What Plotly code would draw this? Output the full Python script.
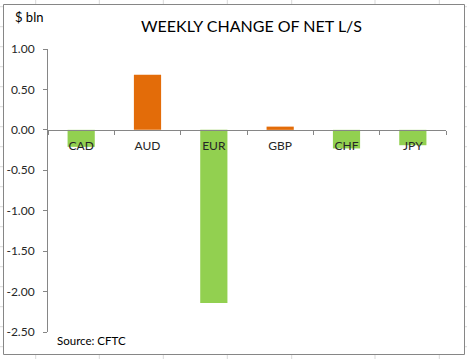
import plotly.graph_objects as go

# ---- data ----
categories = ["CAD", "AUD", "EUR", "GBP", "CHF", "JPY"]
values = [-0.21, 0.68, -2.14, 0.04, -0.23, -0.19]
ytick_vals = [1.0, 0.5, 0.0, -0.5, -1.0, -1.5, -2.0, -2.5]
ytick_text = ["1.00", "0.50", "0.00", "-0.50", "-1.00", "-1.50", "-2.00", "-2.50"]

GREEN = "#92D050"
ORANGE = "#E36C09"
AXIS = "#868686"
TXT = "#262626"
FONT = "Lato"

W, H = 467, 359
L, R, T, B = 48, 21, 49, 27
pw, ph = W - L - R, H - T - B


def px_x(x):
    return (x - L) / pw


def px_y(y):
    return (H - B - y) / ph


colors = [ORANGE if v > 0 else GREEN for v in values]

fig = go.Figure(
    go.Bar(
        x=categories,
        y=values,
        marker=dict(color=colors, line=dict(width=0)),
        hoverinfo="x+y",
    )
)

shapes = []
# Excel cell grid outside the chart area
grid_col = "#d9d9d9"
for gx in [35.7, 99.3, 163.3, 227.3, 291.7, 375, 439.3]:
    for (ya, yb) in [(0, 4), (354, 359)]:
        shapes.append(dict(type="line", xref="paper", yref="paper",
                           x0=px_x(gx), x1=px_x(gx), y0=px_y(ya), y1=px_y(yb),
                           line=dict(color=grid_col, width=1)))
for k in range(-1, 18):
    gy = 26.7 + 20 * k
    if gy < 0 or gy > H:
        continue
    for (xa, xb) in [(0, 3), (464, 467)]:
        shapes.append(dict(type="line", xref="paper", yref="paper",
                           x0=px_x(xa), x1=px_x(xb), y0=px_y(gy), y1=px_y(gy),
                           line=dict(color=grid_col, width=1)))
# chart area border
shapes.append(dict(type="rect", xref="paper", yref="paper",
                   x0=px_x(3.5), x1=px_x(464.5), y0=px_y(354.5), y1=px_y(4.5),
                   line=dict(color=AXIS, width=1), fillcolor="rgba(0,0,0,0)"))

annotations = [
    dict(text="WEEKLY CHANGE OF NET L/S", xref="paper", yref="paper",
         x=px_x(251), y=px_y(25), xanchor="center", yanchor="middle",
         showarrow=False, font=dict(family=FONT, size=16, color="#000000")),
    dict(text="$ bln", xref="paper", yref="paper",
         x=px_x(13), y=px_y(17), xanchor="left", yanchor="middle",
         showarrow=False, font=dict(family=FONT, size=13, color="#000000")),
    dict(text="Source: CFTC", xref="paper", yref="paper",
         x=px_x(55), y=px_y(340), xanchor="left", yanchor="middle",
         showarrow=False, font=dict(family=FONT, size=11.5, color="#000000")),
]

fig.update_layout(
    width=W, height=H,
    margin=dict(l=L, r=R, t=T, b=B, pad=0, autoexpand=False),
    paper_bgcolor="white", plot_bgcolor="white",
    showlegend=False,
    bargap=0.59,
    shapes=shapes,
    annotations=annotations,
    font=dict(family=FONT, size=12, color=TXT),
    xaxis=dict(
        type="category",
        anchor="free",
        position=2.5 / 3.5,
        showline=True, linecolor=AXIS, linewidth=1,
        ticks="outside", ticklen=4, tickcolor=AXIS,
        tickson="boundaries",
        ticklabelstandoff=5,
        showgrid=False, zeroline=False,
        tickfont=dict(family=FONT, size=12, color=TXT),
        layer="above traces",
        automargin=False,
    ),
    yaxis=dict(
        range=[-2.5, 1.0],
        tickvals=ytick_vals, ticktext=ytick_text,
        showline=True, linecolor=AXIS, linewidth=1,
        ticks="outside", ticklen=4, tickcolor=AXIS,
        ticklabelstandoff=6,
        showgrid=False, zeroline=False,
        tickfont=dict(family=FONT, size=12, color=TXT),
        automargin=False,
    ),
)

fig.write_html(
    "out.html",
    config={"displayModeBar": False},
    post_script="document.body.style.margin='0';document.body.style.padding='0';",
)
